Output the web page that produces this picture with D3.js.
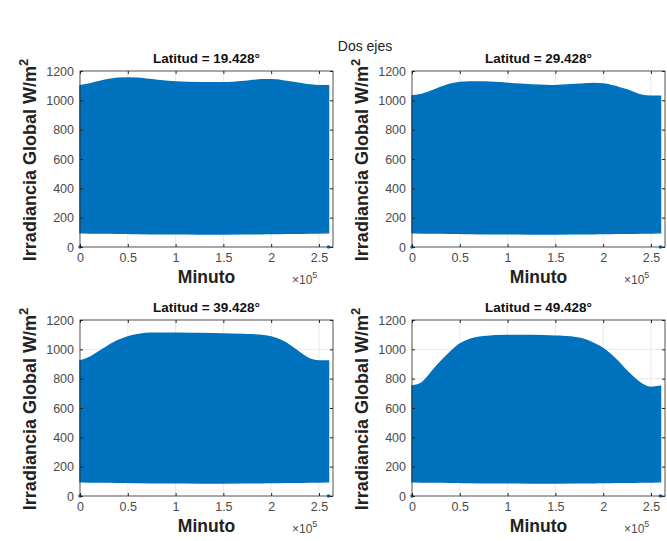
<!DOCTYPE html>
<html>
<head>
<meta charset="utf-8">
<script src="https://cdn.jsdelivr.net/npm/d3@7"></script>
<style>
  body { margin: 0; background: #fff; }
  svg { display: block; font-family: "Liberation Sans", Arial, sans-serif; }
</style>
</head>
<body>
<div id="chart"></div>
<script>
// data
var latitudes = ["19.428", "29.428", "39.428", "49.428"];
var sampleMinutes = [0, 10000, 25000, 40000, 50000, 60000, 75000, 100000, 125000, 150000, 175000, 190000, 200000, 215000, 225000, 240000, 250000, 260000];
var upper19 = [1100, 1112, 1135, 1150, 1152, 1150, 1140, 1125, 1120, 1120, 1130, 1140, 1140, 1130, 1120, 1105, 1100, 1100];
var upper29 = [1030, 1040, 1075, 1110, 1122, 1125, 1125, 1115, 1105, 1100, 1110, 1115, 1112, 1090, 1070, 1035, 1028, 1028];
var upper39 = [920, 945, 1005, 1060, 1085, 1100, 1110, 1110, 1108, 1105, 1100, 1095, 1085, 1045, 1000, 935, 920, 920];
var upper49 = [750, 770, 880, 980, 1035, 1065, 1085, 1095, 1095, 1090, 1075, 1040, 1005, 920, 850, 765, 740, 748];
var lower = [97, 96, 95, 94, 93, 92, 91, 90, 89, 89, 90, 91, 92, 93, 94, 95, 96, 97];
var endMarkers = [0, 260000];
var xTicks = [0, 50000, 100000, 150000, 200000, 250000];
var yTicks = [0, 200, 400, 600, 800, 1000, 1200];
var upperSeries = [upper19, upper29, upper39, upper49];

var width = 667, height = 541;
var panelW = 253, panelH = 176;
var panelPos = [[80, 71], [412, 71], [80, 320], [412, 320]];
var blue = "#0072BD";

var svg = d3.select("#chart").append("svg")
    .attr("width", width)
    .attr("height", height);

svg.append("text")
    .attr("x", 365)
    .attr("y", 51)
    .attr("text-anchor", "middle")
    .style("font-size", "14px")
    .style("fill", "#222")
    .text("Dos ejes");

latitudes.forEach(function(lat, i) {
    var px = panelPos[i][0], py = panelPos[i][1];
    var g = svg.append("g").attr("transform", "translate(" + px + "," + py + ")");

    var x = d3.scaleLinear().domain([0, 264700]).range([0, panelW]);
    var y = d3.scaleLinear().domain([0, 1200]).range([panelH, 0]);

    // grid
    g.append("g").selectAll("line").data(xTicks.slice(1)).enter().append("line")
        .attr("x1", d => x(d)).attr("x2", d => x(d))
        .attr("y1", 0).attr("y2", panelH)
        .style("stroke", "#e3e3e3").style("stroke-width", 0.8);
    g.append("g").selectAll("line").data(yTicks.slice(1, -1)).enter().append("line")
        .attr("x1", 0).attr("x2", panelW)
        .attr("y1", d => y(d)).attr("y2", d => y(d))
        .style("stroke", "#e3e3e3").style("stroke-width", 0.8);

    // filled oscillation envelope
    var up = upperSeries[i];
    var area = d3.area()
        .x(function(d, k) { return x(sampleMinutes[k]); })
        .y0(function(d, k) { return y(lower[k]); })
        .y1(function(d, k) { return y(up[k]); })
        .curve(d3.curveMonotoneX);
    g.append("path")
        .datum(up)
        .attr("d", area)
        .style("fill", blue)
        .style("stroke", blue)
        .style("stroke-width", 1.5);

    g.selectAll(".mk").data(endMarkers).enter().append("circle")
        .attr("cx", d => x(d))
        .attr("cy", y(0))
        .attr("r", 1.8)
        .style("fill", blue);

    // axes with inward ticks
    var fmtX = function(d) { return d3.format("~g")(d / 100000); };
    g.append("g")
        .attr("transform", "translate(0," + panelH + ")")
        .call(d3.axisBottom(x).tickValues(xTicks).tickFormat(fmtX).tickSizeInner(-3).tickSizeOuter(0).tickPadding(6));
    g.append("g")
        .call(d3.axisTop(x).tickValues(xTicks).tickFormat("").tickSizeInner(-3).tickSizeOuter(0));
    g.append("g")
        .call(d3.axisLeft(y).tickValues(yTicks).tickFormat(d3.format("d")).tickSizeInner(-3).tickSizeOuter(0).tickPadding(6));
    g.append("g")
        .attr("transform", "translate(" + panelW + ",0)")
        .call(d3.axisRight(y).tickValues(yTicks).tickFormat("").tickSizeInner(-3).tickSizeOuter(0));

    g.selectAll(".domain").remove();
    g.selectAll(".tick line").style("stroke", "#262626");
    g.selectAll(".tick text")
        .style("font-size", "12.5px")
        .style("fill", "#4a4a4a")
        .style("font-family", "Liberation Sans, Arial, sans-serif");

    g.append("rect")
        .attr("width", panelW).attr("height", panelH)
        .style("fill", "none")
        .style("stroke", "#262626")
        .style("stroke-width", 0.8);

    g.append("text")
        .attr("x", panelW / 2)
        .attr("y", -8)
        .attr("text-anchor", "middle")
        .style("font-size", "13.5px")
        .style("font-weight", "bold")
        .style("fill", "#111")
        .text("Latitud = " + lat + "°");

    g.append("text")
        .attr("x", panelW / 2)
        .attr("y", panelH + 36)
        .attr("text-anchor", "middle")
        .style("font-size", "17.5px")
        .style("font-weight", "bold")
        .style("fill", "#222")
        .text("Minuto");

    var expo = g.append("text")
        .attr("x", panelW - 41)
        .attr("y", panelH + 37)
        .style("font-size", "12px")
        .style("fill", "#4a4a4a");
    expo.append("tspan").text("×10");
    expo.append("tspan").attr("dy", -6).style("font-size", "9px").text("5");

    var yl = g.append("text")
        .attr("transform", "translate(-44," + (panelH / 2 + 1) + ") rotate(-90)")
        .attr("text-anchor", "middle")
        .style("font-size", "18px")
        .style("font-weight", "bold")
        .style("fill", "#222");
    yl.append("tspan").text("Irradiancia Global W/m");
    yl.append("tspan").attr("dy", -8).style("font-size", "13px").text("2");
});
</script>
</body>
</html>
